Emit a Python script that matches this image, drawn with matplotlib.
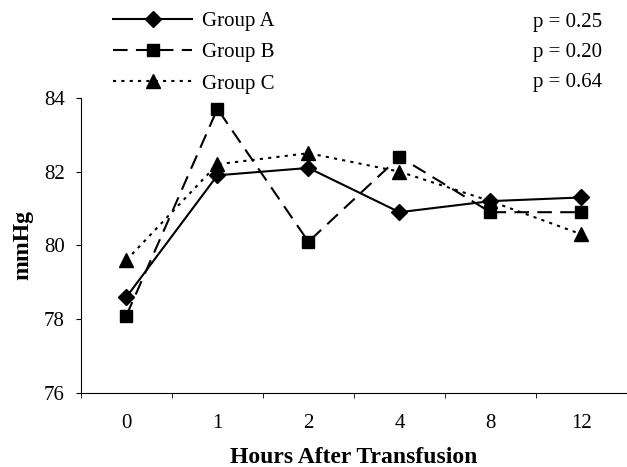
import numpy as np
import matplotlib.pyplot as plt

plt.rcParams['font.family'] = ['Liberation Serif', 'DejaVu Serif']

hours = ["0", "1", "2", "4", "8", "12"]
group_a = [78.6, 81.9, 82.1, 80.9, 81.2, 81.3]
group_b = [78.1, 83.7, 80.1, 82.4, 80.9, 80.9]
group_c = [79.6, 82.2, 82.5, 82.0, 81.2, 80.3]
p_values = ["p = 0.25", "p = 0.20", "p = 0.64"]
labels = ["Group A", "Group B", "Group C"]

fig = plt.figure(figsize=(6.27, 4.67), dpi=100)
ax = fig.add_axes([0.129, 0.1585, 0.871, 0.632])

x = np.arange(len(hours))
l1, = ax.plot(x, group_a, color="black", lw=1.5, marker="D", ms=8, ls="-")
l2, = ax.plot(x, group_b, color="black", lw=1.5, marker="s", ms=8.5, ls=(0, (7, 4)))
l3, = ax.plot(x, group_c, color="black", lw=1.5, marker="^", ms=9.5, ls=(0, (1.5, 2.5)))

ax.set_xlim(-0.5, len(hours) - 0.5)
ax.set_ylim(76, 84)
ax.set_yticks([76, 78, 80, 82, 84])
ax.set_xticks(x)
ax.set_xticklabels(hours)
ax.set_xticks(np.arange(-0.5, len(hours)), minor=True)
ax.tick_params(axis="x", which="major", length=0, pad=15, labelsize=15)
ax.tick_params(axis="x", which="minor", length=3.6, direction="out")
ax.tick_params(axis="y", length=3.6, direction="out", labelsize=15, pad=8)
for s in ["top", "right"]:
    ax.spines[s].set_visible(False)

ax.set_ylabel("mmHg", fontsize=17, fontweight="bold")
ax.set_xlabel("Hours After Transfusion", fontsize=17, fontweight="bold")
ax.yaxis.set_label_coords(-0.106, 0.5)
ax.xaxis.set_label_coords(0.5, -0.22)
ax.yaxis.label.set_va("center")
ax.xaxis.label.set_va("center")

fig.legend([l1, l2, l3], labels, loc="upper left", bbox_to_anchor=(0.162, 1.0),
           frameon=False, fontsize=15, handlelength=3.8, labelspacing=0.56,
           handletextpad=0.45, borderaxespad=0.15)

for i, p in enumerate(p_values):
    fig.text(0.850, 0.951 - i * 0.064, p, fontsize=15, va="center")

fig.savefig("out.png", dpi=100)
